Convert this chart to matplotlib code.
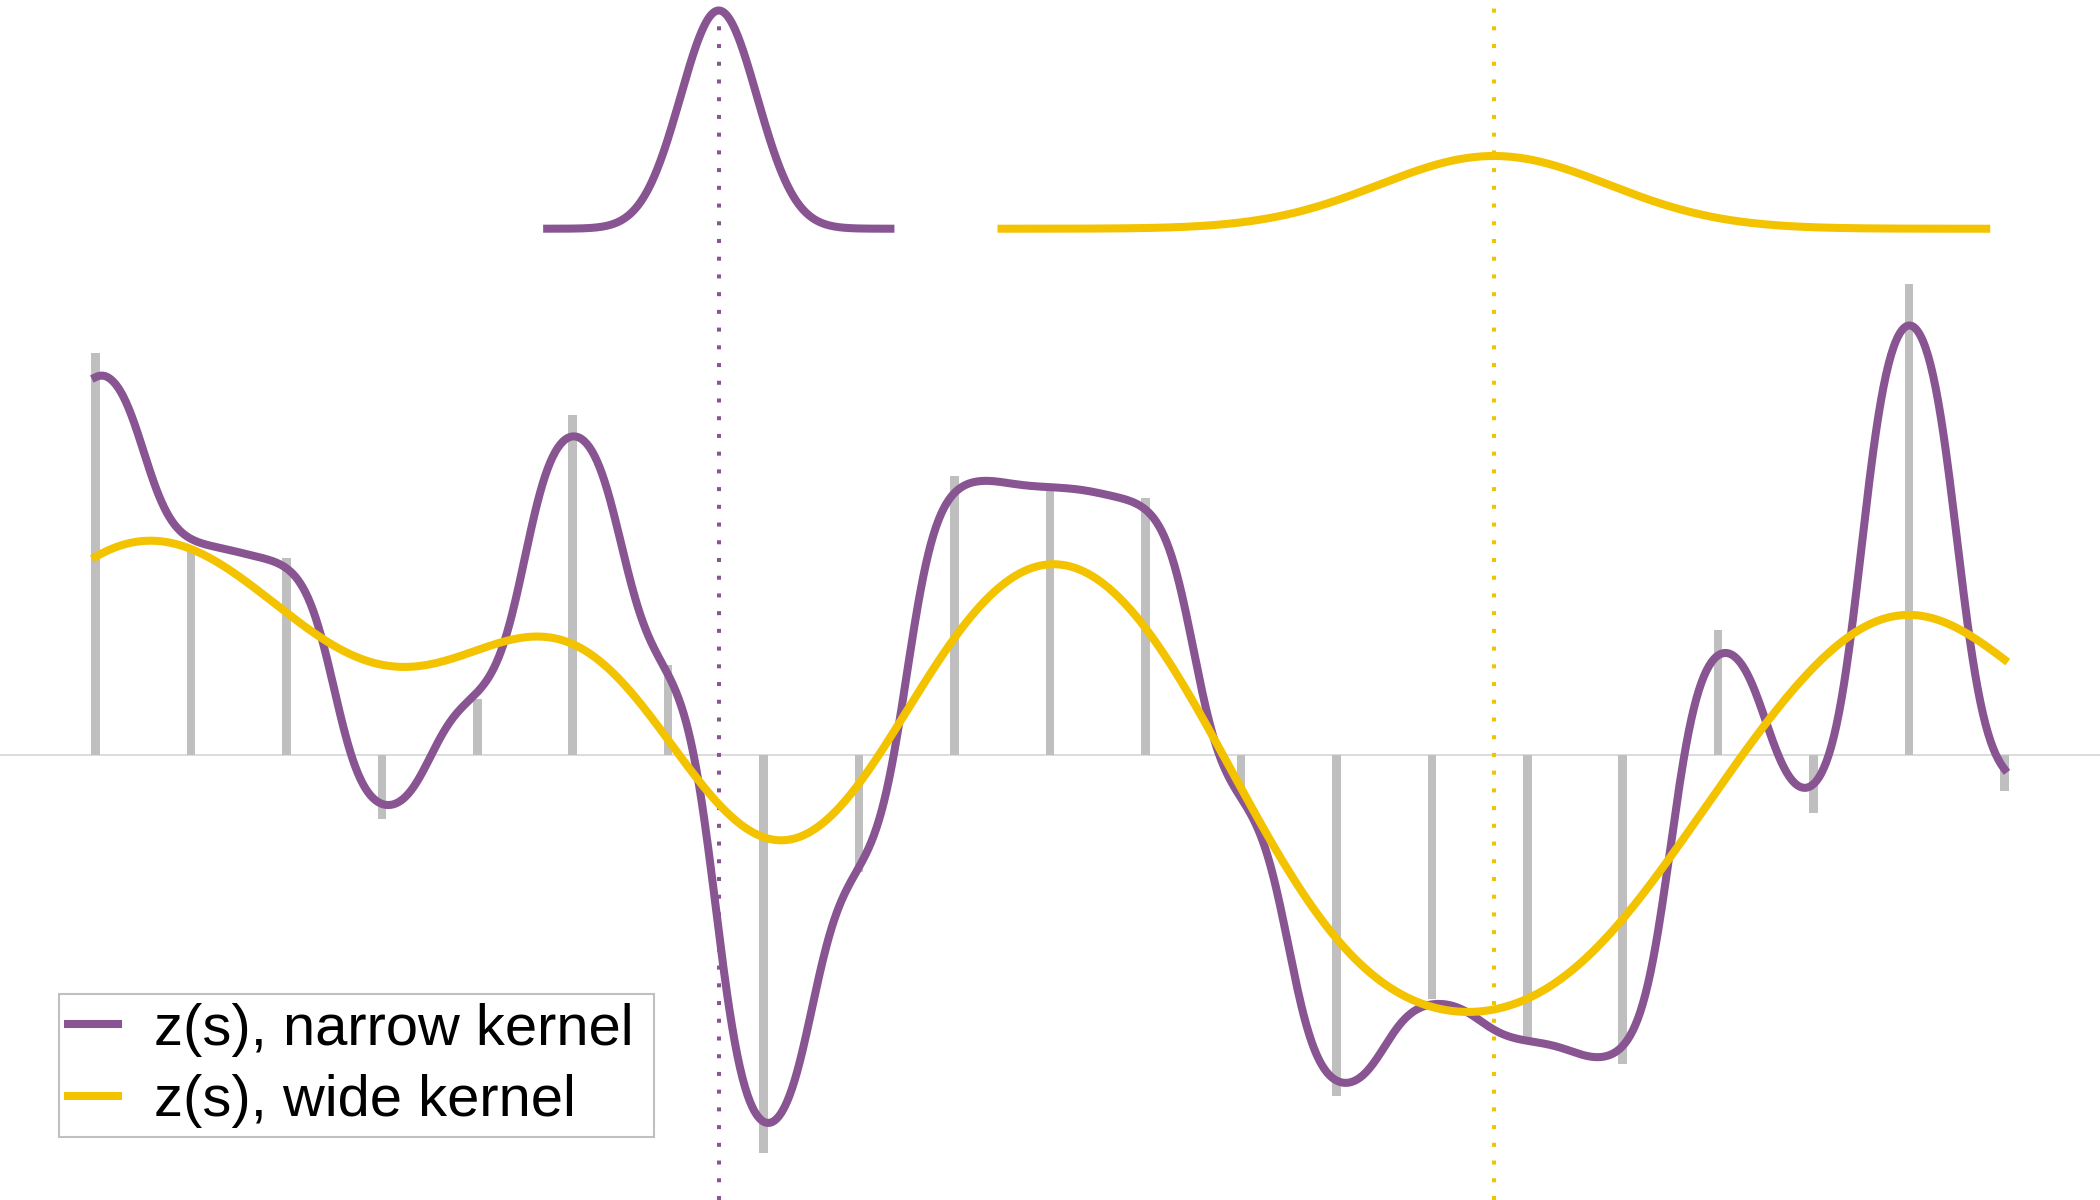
import numpy as np
import matplotlib
matplotlib.use("Agg")
import matplotlib.pyplot as plt

# knots and the latent values x_j drawn as grey bars
knots = np.arange(21)
x_vals = [3.00, 1.56, 1.47, -0.48, 0.42, 2.54, 0.67, -2.97, -0.87, 2.08,
          2.00, 1.92, -0.32, -2.55, -1.82, -2.14, -2.31, 0.93, -0.43, 3.52, -0.27]

# gaussian kernel widths (in knot units)
sd_narrow = 0.40
sd_wide = 1.20

# where the kernels are shown at the top
center_narrow = 6.53
center_wide = 14.65
half_narrow = 1.84
half_wide = 5.2
kernel_base = 3.93
kernel_scale = 1.634

labels = ["z(s), narrow kernel", "z(s), wide kernel"]

PURPLE = "#885592"
YELLOW = "#F3C300"
GREY = "#BFBFBF"


def gauss(d, sd):
    return np.exp(-0.5 * (d / sd) ** 2) / (sd * np.sqrt(2 * np.pi))


def z(s, sd):
    # z(s) = sum_j k(s - w_j) x_j, weights scaled by the kernel sum over the full knot lattice
    num = np.sum(gauss(s[:, None] - knots[None, :], sd) * np.array(x_vals)[None, :], axis=1)
    lattice = np.arange(-40, 61)
    den = np.sum(gauss(s[:, None] - lattice[None, :], sd), axis=1)
    return num / den


plt.rcParams["font.family"] = ["Liberation Sans", "DejaVu Sans"]

fig = plt.figure(figsize=(21, 12), dpi=100)
ax = fig.add_axes([0, 0, 1, 1])
ax.axis("off")
ax.set_xlim(-1.0, 21.0)
ax.set_ylim(-3.323, 5.638)

ax.axhline(0, color="#D6D6D6", lw=1.2, zorder=1)
ax.bar(knots, x_vals, width=0.09, color=GREY, zorder=2)

# dotted lines through kernel centres
ax.axvline(center_narrow, color=PURPLE, lw=2.9, ls=(0, (1, 3.4)), zorder=3)
ax.axvline(center_wide, color=YELLOW, lw=2.9, ls=(0, (1, 3.4)), zorder=3)

s = np.linspace(0, 20, 1500)
ax.plot(s, z(s, sd_narrow), color=PURPLE, lw=5.8, zorder=4, label=labels[0])
ax.plot(s, z(s, sd_wide), color=YELLOW, lw=5.8, zorder=5, label=labels[1])

# kernels at the top
kn = np.linspace(center_narrow - half_narrow, center_narrow + half_narrow, 400)
ax.plot(kn, kernel_base + kernel_scale * gauss(kn - center_narrow, sd_narrow),
        color=PURPLE, lw=5.8, solid_capstyle="butt", zorder=4)
kw = np.linspace(center_wide - half_wide, center_wide + half_wide, 400)
ax.plot(kw, kernel_base + kernel_scale * gauss(kw - center_wide, sd_wide),
        color=YELLOW, lw=5.8, solid_capstyle="butt", zorder=5)

leg = ax.legend(loc="lower left", bbox_to_anchor=(0.028, 0.0525, 0.2835, 0.1),
                mode="expand", borderaxespad=0,
                fontsize=41.7, handlelength=0.87, handletextpad=0.62,
                borderpad=0.155, labelspacing=0.3, fancybox=False, framealpha=1)
leg.get_frame().set_edgecolor("#C0C0C0")
leg.get_frame().set_linewidth(1.5)

fig.savefig("out.png", dpi=100)
